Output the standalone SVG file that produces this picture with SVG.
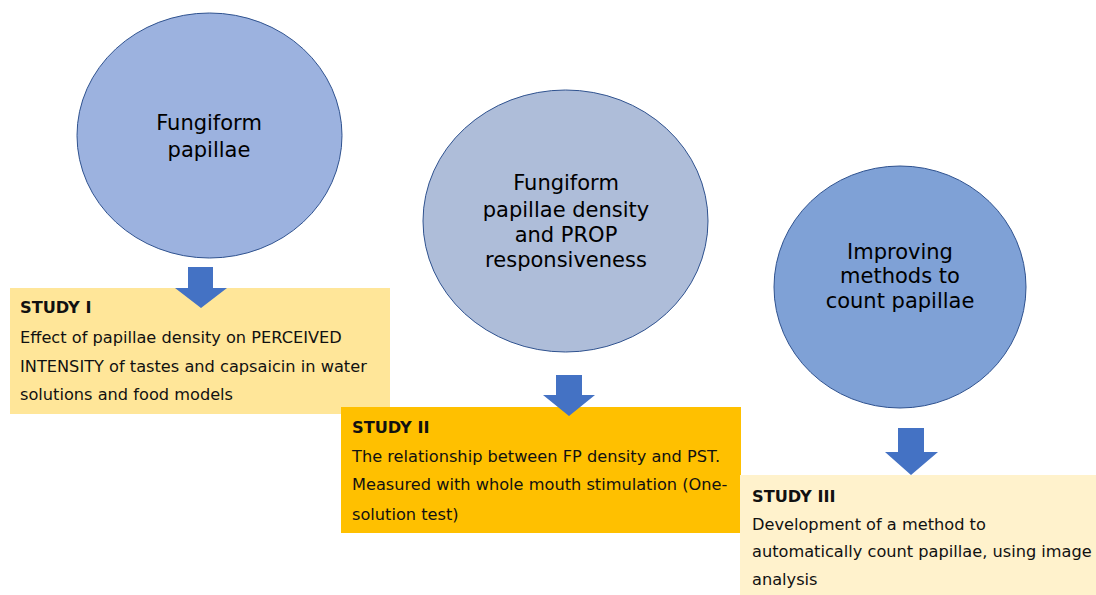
<svg xmlns="http://www.w3.org/2000/svg" width="1096" height="595" viewBox="0 0 1096 595">
<style>
.node ellipse{stroke:#2F528F;stroke-width:1}
.ct{font-family:"DejaVu Sans",Verdana,sans-serif;font-size:21px;fill:#000;text-anchor:middle}
.bt{font-family:"DejaVu Sans",Verdana,sans-serif;font-size:16.2px;fill:#111}
.bh{font-weight:bold}
.arrow{fill:#4472C4}
</style>
<rect width="1096" height="595" fill="#fff"/>
<g id="circle1" class="node">
<ellipse cx="209.5" cy="135.5" rx="132.5" ry="122.5" fill="#9CB2DF"/>
<text class="ct" x="209" y="130">Fungiform</text>
<text class="ct" x="209" y="157">papillae</text>
</g>
<g id="circle2" class="node">
<ellipse cx="565.5" cy="221" rx="142.5" ry="131" fill="#AEBDD9"/>
<text class="ct" x="566" y="190">Fungiform</text>
<text class="ct" x="566" y="217">papillae density</text>
<text class="ct" x="566" y="242">and PROP</text>
<text class="ct" x="566" y="267">responsiveness</text>
</g>
<g id="circle3" class="node">
<ellipse cx="900" cy="287" rx="126" ry="121" fill="#7FA1D6"/>
<text class="ct" x="900" y="259">Improving</text>
<text class="ct" x="900" y="283">methods to</text>
<text class="ct" x="900" y="308">count papillae</text>
</g>
<g id="study1" class="node">
<rect x="10" y="288" width="380" height="126" fill="#FFE699"/>
<text class="bt bh" x="20" y="313">STUDY I</text>
<text class="bt" x="20" y="343">Effect of papillae density on PERCEIVED</text>
<text class="bt" x="20" y="372">INTENSITY of tastes and capsaicin in water</text>
<text class="bt" x="20" y="400">solutions and food models</text>
</g>
<g id="study2" class="node">
<rect x="341" y="407" width="400" height="126" fill="#FFC000"/>
<text class="bt bh" x="352" y="433">STUDY II</text>
<text class="bt" x="352" y="462">The relationship between FP density and PST.</text>
<text class="bt" x="352" y="490">Measured with whole mouth stimulation (One-</text>
<text class="bt" x="352" y="520">solution test)</text>
</g>
<g id="study3" class="node">
<rect x="740" y="475" width="356" height="120" fill="#FFF2CC"/>
<text class="bt bh" x="752" y="502">STUDY III</text>
<text class="bt" x="752" y="530">Development of a method to</text>
<text class="bt" x="752" y="557">automatically count papillae, using image</text>
<text class="bt" x="752" y="585">analysis</text>
</g>
<g id="connectors">
<polygon class="arrow" points="188,267 213,267 213,288 227,288 201,308 175,288 188,288"/>
<polygon class="arrow" points="556,375 582,375 582,395 595,395 569,416 543,395 556,395"/>
<polygon class="arrow" points="898,428 924,428 924,452 938,452 911,475 885,452 898,452"/>
</g>
</svg>
